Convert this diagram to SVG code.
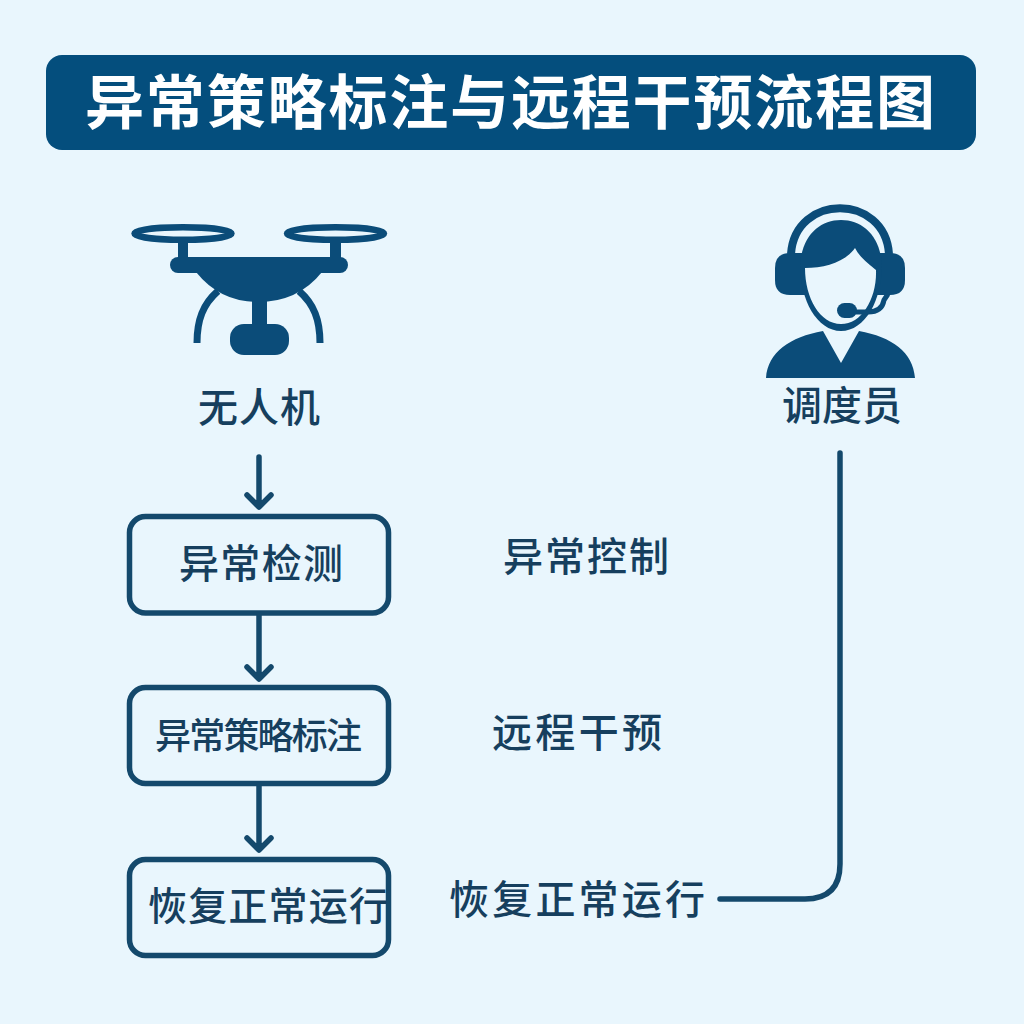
<svg xmlns="http://www.w3.org/2000/svg" width="1024" height="1024" viewBox="0 0 1024 1024">
<defs>
<style>
text{font-family:"Noto Sans CJK SC","Noto Sans",sans-serif;fill:#163f5e;font-weight:500;text-anchor:middle}
.box{fill:none;stroke:#14496c;stroke-width:5.500}
.ln{fill:none;stroke:#14496c;stroke-width:5.500;stroke-linecap:round;stroke-linejoin:round}
.fill{fill:#0b4c79}
</style>
</defs>
<rect width="1024" height="1024" fill="#e9f6fd"/>
<g id="title"><rect x="46" y="55" width="930" height="95" rx="16" fill="#044e7d"/>
<text x="510" y="124" font-size="59" style="fill:#fff;font-weight:700" textLength="850">异常策略标注与远程干预流程图</text></g>
<g id="drone">
<ellipse cx="183" cy="233.500" rx="48.500" ry="6.300" fill="none" stroke="#0b4c79" stroke-width="6.500"/>
<ellipse cx="335.500" cy="233.500" rx="48.500" ry="6.300" fill="none" stroke="#0b4c79" stroke-width="6.500"/>
<rect x="178" y="240" width="10" height="20" class="fill"/><rect x="330" y="240" width="11" height="20" class="fill"/>
<rect x="170" y="257" width="178" height="16" rx="8" class="fill"/>
<path d="M196 272Q220 302 258 302Q298 302 322 272Z" class="fill"/>
<rect x="252" y="298" width="15" height="30" class="fill"/>
<rect x="230" y="324" width="59" height="31" rx="14" class="fill"/>
<path d="M197 343C197 320 203 304 218 291M320 343C320 320 314 304 299 291" fill="none" stroke="#0b4c79" stroke-width="7"/>
<text x="259" y="422" font-size="40" textLength="122">无人机</text></g>
<g id="operator">
<path d="M791 254C795 193 885 193 889 254" fill="none" stroke="#0b4c79" stroke-width="8"/>
<path d="M775 268Q775 253 790 253H805V295H790Q775 295 775 280Z" class="fill"/>
<path d="M905 268Q905 253 890 253H877V295H890Q905 295 905 280Z" class="fill"/>
<path d="M800 265C802 235 820 220 841 220C862 220 880 235 882 265C882 300 865 331 841 331C817 331 800 300 800 265Z" class="fill"/>
<path d="M805 268C825 268 845 262 855 248C860 258 870 265 876 270C877 298 862 324 841 324C820 324 805 298 805 268Z" fill="#e9f6fd"/>
<path d="M846 312H868Q882 312 884 300L888 294" fill="none" stroke="#0b4c79" stroke-width="5"/>
<rect x="837" y="303" width="20" height="15" rx="7.500" class="fill"/>
<path d="M766 378C768 352 790 337 823 331L841 363L859 331C892 337 913 352 915 378Z" class="fill"/>
<text x="842" y="420" font-size="40" textLength="120">调度员</text></g>
<g id="n1"><rect class="box" x="129.500" y="516.500" width="259" height="96.500" rx="16"/><text x="261" y="578" font-size="40" textLength="164">异常检测</text></g>
<g id="n2"><rect class="box" x="129.500" y="687.500" width="259" height="96" rx="16"/><text x="258.500" y="749" font-size="36" textLength="207">异常策略标注</text></g>
<g id="n3"><rect class="box" x="129.500" y="859.500" width="259" height="96" rx="16"/><text x="268" y="920" font-size="39" textLength="240">恢复正常运行</text></g>
<g id="l1"><text x="586" y="571" font-size="40" textLength="166">异常控制</text></g>
<g id="l2"><text x="577" y="747" font-size="40" textLength="170">远程干预</text></g>
<g id="l3"><text x="577" y="914" font-size="40" textLength="256">恢复正常运行</text></g>
<g id="connectors">
<path class="ln" d="M259 457V506M247 495L259 507L271 495"/>
<path class="ln" d="M259 615V678M247 667L259 679L271 667"/>
<path class="ln" d="M259 785V849M247 838L259 850L271 838"/>
<path class="ln" d="M720 899H805Q840 899 840 864V453"/>
</g>
</svg>
